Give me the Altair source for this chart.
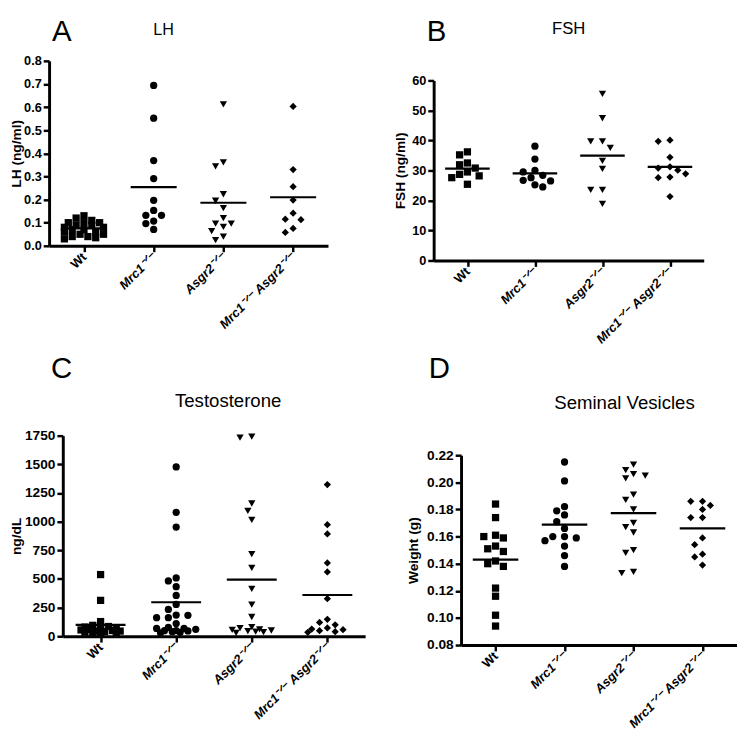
import altair as alt
import numpy as np
import pandas as pd

GROUPS = ["Wt", "Mrc1⁻ᐟ⁻", "Asgr2⁻ᐟ⁻", "Mrc1⁻ᐟ⁻ Asgr2⁻ᐟ⁻"]
SHAPES = ["square", "circle", "triangle-down", "diamond"]
FONT = "Liberation Sans"

# Panel A: LH (ng/ml)
LH_WT = [0.13, 0.12, 0.11, 0.10, 0.10, 0.10, 0.09, 0.09, 0.08, 0.08,
         0.07, 0.07, 0.06, 0.06, 0.05, 0.05, 0.04, 0.04, 0.03, 0.035]
LH_MRC1 = [0.694, 0.552, 0.369, 0.291, 0.197, 0.153, 0.132, 0.132, 0.107, 0.096, 0.071]
LH_ASGR2 = [0.612, 0.361, 0.344, 0.223, 0.195, 0.163, 0.120, 0.096, 0.096, 0.082, 0.064, 0.040, 0.025]
LH_DKO = [0.603, 0.330, 0.256, 0.198, 0.141, 0.115, 0.113, 0.075, 0.058]

# Panel B: FSH (ng/ml)
FSH_WT = [36.2, 35.2, 32.5, 31.9, 30.8, 29.5, 28.7, 28.2, 27.6, 25.4]
FSH_MRC1 = [38.1, 33.8, 30.0, 29.5, 28.4, 27.6, 26.7, 26.5, 25.2, 24.5]
FSH_ASGR2 = [55.5, 47.4, 39.7, 39.7, 37.5, 33.2, 30.5, 23.5, 23.5, 18.9]
FSH_DKO = [40.1, 39.7, 34.4, 31.2, 30.8, 30.1, 28.9, 27.8, 27.6, 21.3]

# Panel C: Testosterone (ng/dL)
T_WT = [538, 313, 128, 95, 85, 80, 70, 65, 60, 55, 50, 45, 45, 40, 35, 30, 25, 20]
T_MRC1 = [1477, 1081, 953, 509, 483, 432, 356, 277, 234, 185, 183, 162, 162, 111,
          77, 68, 68, 60, 50, 49, 46, 40, 34, 30]
T_ASGR2 = [1741, 1733, 1158, 1093, 1016, 717, 597, 413, 276, 168,
           80, 70, 60, 55, 50, 45, 40, 35, 30]
T_DKO = [1323, 973, 893, 640, 561, 328, 148, 120, 100, 72, 63, 57, 49, 40, 34]

# Panel D: Seminal vesicles weight (g)
SV_WT = [0.184, 0.174, 0.161, 0.159, 0.160, 0.151, 0.153, 0.149, 0.142, 0.138,
         0.140, 0.122, 0.116, 0.102, 0.094]
SV_MRC1 = [0.215, 0.201, 0.179, 0.176, 0.182, 0.171, 0.166, 0.159, 0.157, 0.160,
           0.160, 0.153, 0.146, 0.138]
SV_ASGR2 = [0.209, 0.213, 0.205, 0.203, 0.206, 0.191, 0.187, 0.180, 0.170, 0.163,
            0.167, 0.150, 0.148, 0.133, 0.134]
SV_DKO = [0.186, 0.186, 0.180, 0.183, 0.174, 0.174, 0.159, 0.154, 0.147, 0.145, 0.139]

PANEL_LETTERS = ["A", "B", "C", "D"]
PANEL_TITLES = ["LH", "FSH", "Testosterone", "Seminal Vesicles"]


def swarm(vals, ppu, d, half):
    """Column-scatter spread: place points so that markers collide as little as possible."""
    vals = np.asarray(vals, float)
    y = vals * ppu
    order = np.argsort(-vals, kind="stable")
    step = d * 0.5
    cands = [0.0]
    k = 1
    while k * step <= half + 1e-9:
        cands += [-k * step, k * step]
        k += 1
    placed = []
    offs = np.zeros(len(vals))
    for i in order:
        chosen, bestc, bestd = None, 0.0, -1.0
        for c in cands:
            md = min([np.hypot(c - px, y[i] - py) for px, py in placed], default=1e9)
            if md >= d * 1.02:
                chosen = c
                break
            if md > bestd:
                bestd, bestc = md, c
        if chosen is None:
            chosen = bestc
        offs[i] = chosen
        placed.append((chosen, y[i]))
    return offs


def text_layer(txt, x, y, size, align):
    return alt.Chart(pd.DataFrame({"t": [txt]})).mark_text(
        font=FONT, fontSize=size, align=align, baseline="alphabetic", color="black"
    ).encode(x=alt.value(x), y=alt.value(y), text="t:N")


def panel(series, ymin, ymax, step, fmt, ytitle, titlex, w, h, lab_size, xlab_size,
          texts=(), spacer=None):
    band = w / 4.0
    ppu = h / (ymax - ymin)
    rows = []
    for gi, vals in enumerate(series):
        offs = swarm(vals, ppu, 8.0, band * 0.31)
        for v, o in zip(vals, offs):
            rows.append({"group": GROUPS[gi], "idx": gi, "xpos": gi + o / band, "value": v})
    df = pd.DataFrame(rows)

    xscale = alt.Scale(domain=[-0.5, 3.5], nice=False, zero=False)
    yscale = alt.Scale(domain=[ymin, ymax], nice=False, zero=False)
    label_expr = "[" + ",".join("'%s'" % g for g in GROUPS) + "][datum.value]"
    nt = int(round((ymax - ymin) / step))
    yvals = [round(ymin + k * step, 6) for k in range(nt + 1)]

    xaxis = alt.Axis(values=[0, 1, 2, 3], labelExpr=label_expr, title=None,
                     labelAngle=-45, labelAlign="right", labelBaseline="middle",
                     labelFont=FONT, labelFontWeight="bold", labelFontSize=xlab_size,
                     labelFontStyle=alt.condition("datum.value == 0", alt.value("normal"), alt.value("italic")),
                     labelColor="black", labelOverlap=False, labelFlush=False, labelPadding=3,
                     domainColor="black", domainWidth=3, tickColor="black", tickWidth=2.5,
                     tickSize=6, grid=False)
    yaxis = alt.Axis(values=yvals, format=fmt, title=ytitle, titleX=titlex, titleY=h / 2,
                     titleBaseline="middle", titleFont=FONT, titleFontWeight="bold",
                     titleFontSize=14, titleColor="black",
                     labelFont=FONT, labelFontWeight="bold", labelFontSize=lab_size,
                     labelColor="black", labelOverlap=False, labelFlush=False, labelPadding=2,
                     domainColor="black", domainWidth=3, tickColor="black", tickWidth=2.5,
                     tickSize=6, grid=False)

    pts = alt.Chart(df).mark_point(filled=True, opacity=1, color="black", size=55).encode(
        x=alt.X("xpos:Q", scale=xscale, axis=xaxis),
        y=alt.Y("value:Q", scale=yscale, axis=yaxis),
        shape=alt.Shape("group:N", scale=alt.Scale(domain=GROUPS, range=SHAPES), legend=None),
    )
    mean = alt.Chart(df).transform_aggregate(
        mean="mean(value)", groupby=["idx"]
    ).transform_calculate(
        x1="datum.idx - 0.33", x2="datum.idx + 0.33"
    ).mark_rule(color="black", strokeWidth=2.2).encode(
        x=alt.X("x1:Q", scale=xscale, axis=xaxis),
        x2="x2:Q",
        y=alt.Y("mean:Q", scale=yscale, axis=yaxis),
    )
    layers = [pts, mean] + [text_layer(*t) for t in texts]
    if spacer is not None:
        # invisible layout anchor (keeps panels spaced like the original figure)
        sp = alt.Chart(pd.DataFrame({"t": [0]})).mark_point(opacity=0, size=1).encode(
            x=alt.value(spacer[0]), y=alt.value(spacer[1]))
        layers.append(sp)
    return alt.layer(*layers).properties(width=w, height=h)


def blank():
    return alt.Chart(pd.DataFrame({"t": [0]})).mark_point(opacity=0, size=1).encode(
        x=alt.value(0), y=alt.value(0)).properties(width=1, height=1)


# panel letters / titles of the lower row are drawn from the upper panels' frames
A = panel([LH_WT, LH_MRC1, LH_ASGR2, LH_DKO], 0, 0.8, 0.1, ".1f", "LH (ng/ml)", -33,
          285, 189, 13, 13,
          texts=[(PANEL_LETTERS[0], 3, -20, 30, "left"),
                 (PANEL_TITLES[0], 117, -26, 16.5, "center"),
                 (PANEL_LETTERS[2], 2, 324, 30, "left"),
                 (PANEL_TITLES[2], 183, 354, 19, "center")],
          spacer=(351.5, 375.5))
B = panel([FSH_WT, FSH_MRC1, FSH_ASGR2, FSH_DKO], 0, 60, 10, "d", "FSH (ng/ml)", -34,
          276, 184, 13, 13,
          texts=[(PANEL_LETTERS[1], -7, -40, 30, "left"),
                 (PANEL_TITLES[1], 138, -47, 17, "center"),
                 (PANEL_LETTERS[3], -5, 304, 30, "left"),
                 (PANEL_TITLES[3], 195, 336, 19, "center")],
          spacer=(0, 372.5))
C = panel([T_WT, T_MRC1, T_ASGR2, T_DKO], 0, 1750, 250, "d", "ng/dL", -47,
          309, 205, 14, 13, spacer=(340.5, 100))
D = panel([SV_WT, SV_MRC1, SV_ASGR2, SV_DKO], 0.08, 0.22, 0.02, ".2f", "Weight (g)", -48,
          282, 194, 14, 13)

chart = alt.concat(
    blank(), blank(), blank(),
    blank(), A, B,
    blank(), C, D,
    columns=3, align="none", bounds="full", spacing=0,
).properties(padding=0).configure_view(stroke=None)

chart.save("out.html", embed_options={"renderer": "svg", "actions": False})
